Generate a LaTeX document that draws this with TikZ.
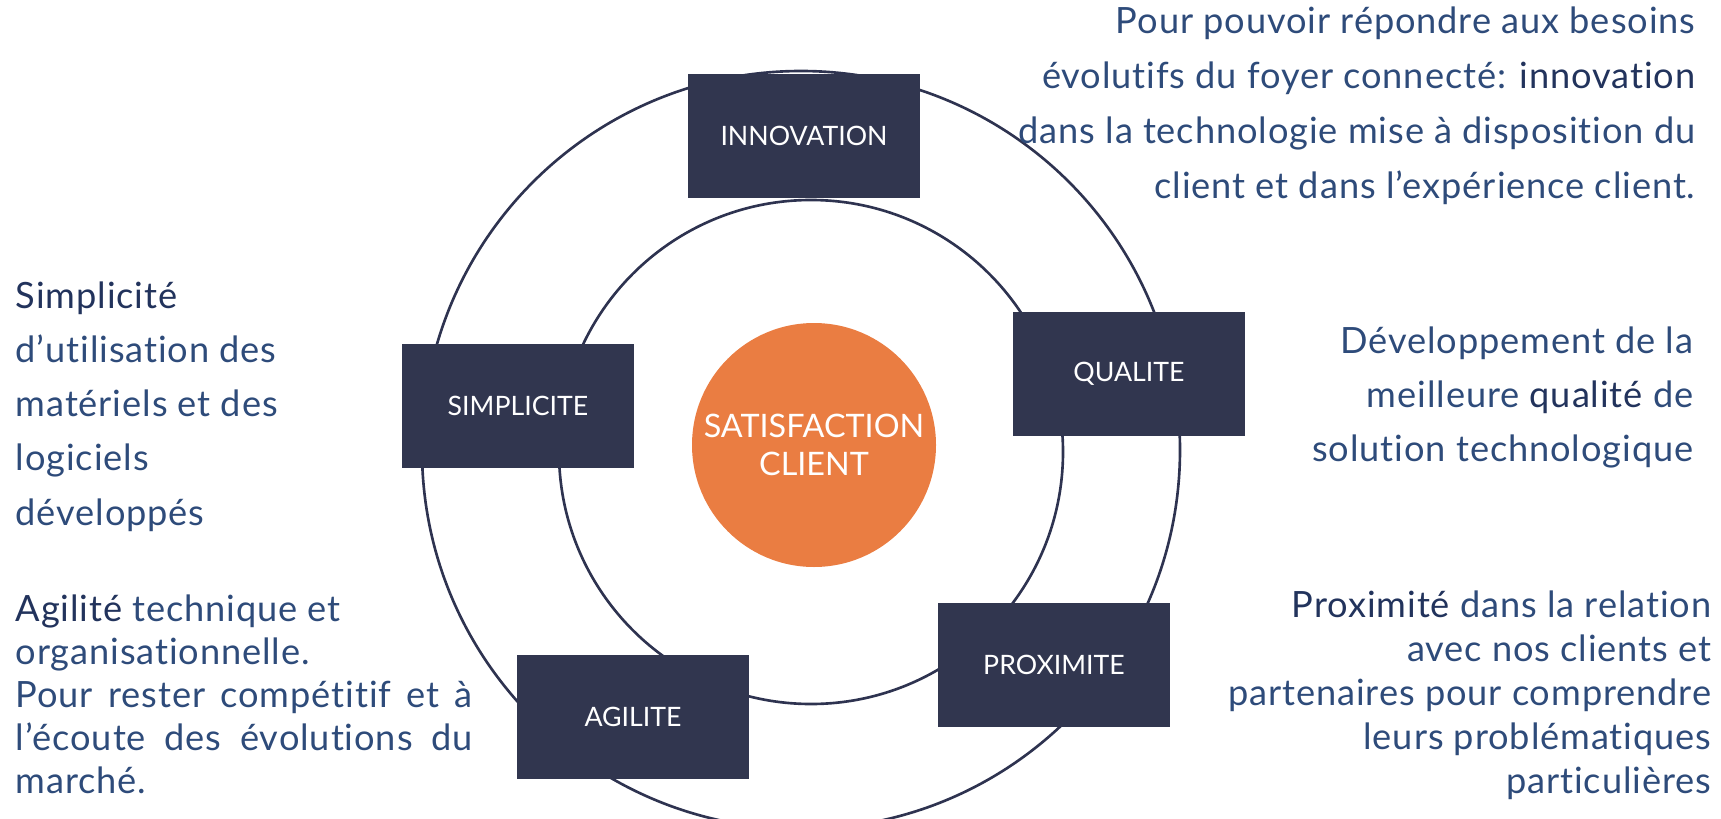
\documentclass[tikz,border=0pt]{standalone}
\usepackage{fontspec}
\setmainfont{Lato}[Ligatures=NoCommon]
\newfontfamily\descfont{Lato}[LetterSpace=2.5, Ligatures=NoCommon]
\definecolor{boxnavy}{HTML}{31364F}
\definecolor{ringnavy}{HTML}{2E3350}
\definecolor{textblue}{HTML}{2E4B7A}
\definecolor{keyblue}{HTML}{22335C}
\definecolor{huborange}{HTML}{EA7D42}
\newcommand{\kw}[1]{{\color{keyblue}#1}}
\begin{document}
\begin{tikzpicture}[
        x=0.1mm, y=-0.1mm,
        ring/.style={draw=ringnavy, line width=0.75pt},
        keybox/.style={fill=boxnavy, text=white, minimum width=23.2mm, minimum height=12.4mm, inner sep=0pt, font=\fontsize{7.6pt}{9pt}\selectfont},
        hub/.style={circle, fill=huborange, text=white, minimum size=24.4mm, inner sep=0pt, align=center, font=\fontsize{9.2pt}{10.8pt}\selectfont},
        desc/.style={text=textblue, inner sep=0pt, font=\descfont\fontsize{10.3pt}{15.6pt}\selectfont}
    ]
        \useasboundingbox (0,0) rectangle (1721,819);

        % Rings
        \draw[ring] (801,450) circle[radius=379];
        \draw[ring] (811,452) circle[radius=252];

        % Value boxes on the rings
        \node[keybox] (innov) at (804,136) {INNOVATION};
        \node[keybox] (qual) at (1129,374) {QUALITE};
        \node[keybox] (simpl) at (518,406) {SIMPLICITE};
        \node[keybox] (prox) at (1054,665) {PROXIMITE};
        \node[keybox] (agil) at (633,717) {AGILITE};

        % Centre
        \node[hub] (satisf) at (814,445) {SATISFACTION\\CLIENT};

        % Descriptions (base = last line)
        \node[desc, anchor=base east, align=right] (innovtxt) at (1696,198) {Pour pouvoir répondre aux besoins\\évolutifs du foyer connecté: \kw{innovation}\\dans la technologie mise à disposition du\\client et dans l’expérience client.};
        \node[desc, anchor=base east, align=right, font=\descfont\fontsize{10.3pt}{15.3pt}\selectfont] (qualtxt) at (1694,461) {Développement de la\\meilleure \kw{qualité} de\\solution technologique};
        \node[desc, anchor=base east, align=right, font=\descfont\fontsize{10.3pt}{12.5pt}\selectfont] (proxtxt) at (1712,793) {\kw{Proximité} dans la relation\\avec nos clients et\\partenaires pour comprendre\\leurs problématiques\\particulières};
        \node[desc, anchor=base west, align=left, font=\descfont\fontsize{10.3pt}{15.4pt}\selectfont] (simpltxt) at (15,525) {\kw{Simplicité}\\d’utilisation des\\matériels et des\\logiciels\\développés};
        \node[desc, anchor=base west, align=left, font=\descfont\fontsize{10.3pt}{12.2pt}\selectfont] (agiltxt) at (15,793) {\kw{Agilité} technique et\\organisationnelle.\\\makebox[45.7mm][s]{Pour rester compétitif et à}\\\makebox[45.7mm][s]{l’écoute des évolutions du}\\marché.};
    \end{tikzpicture}
\end{document}
